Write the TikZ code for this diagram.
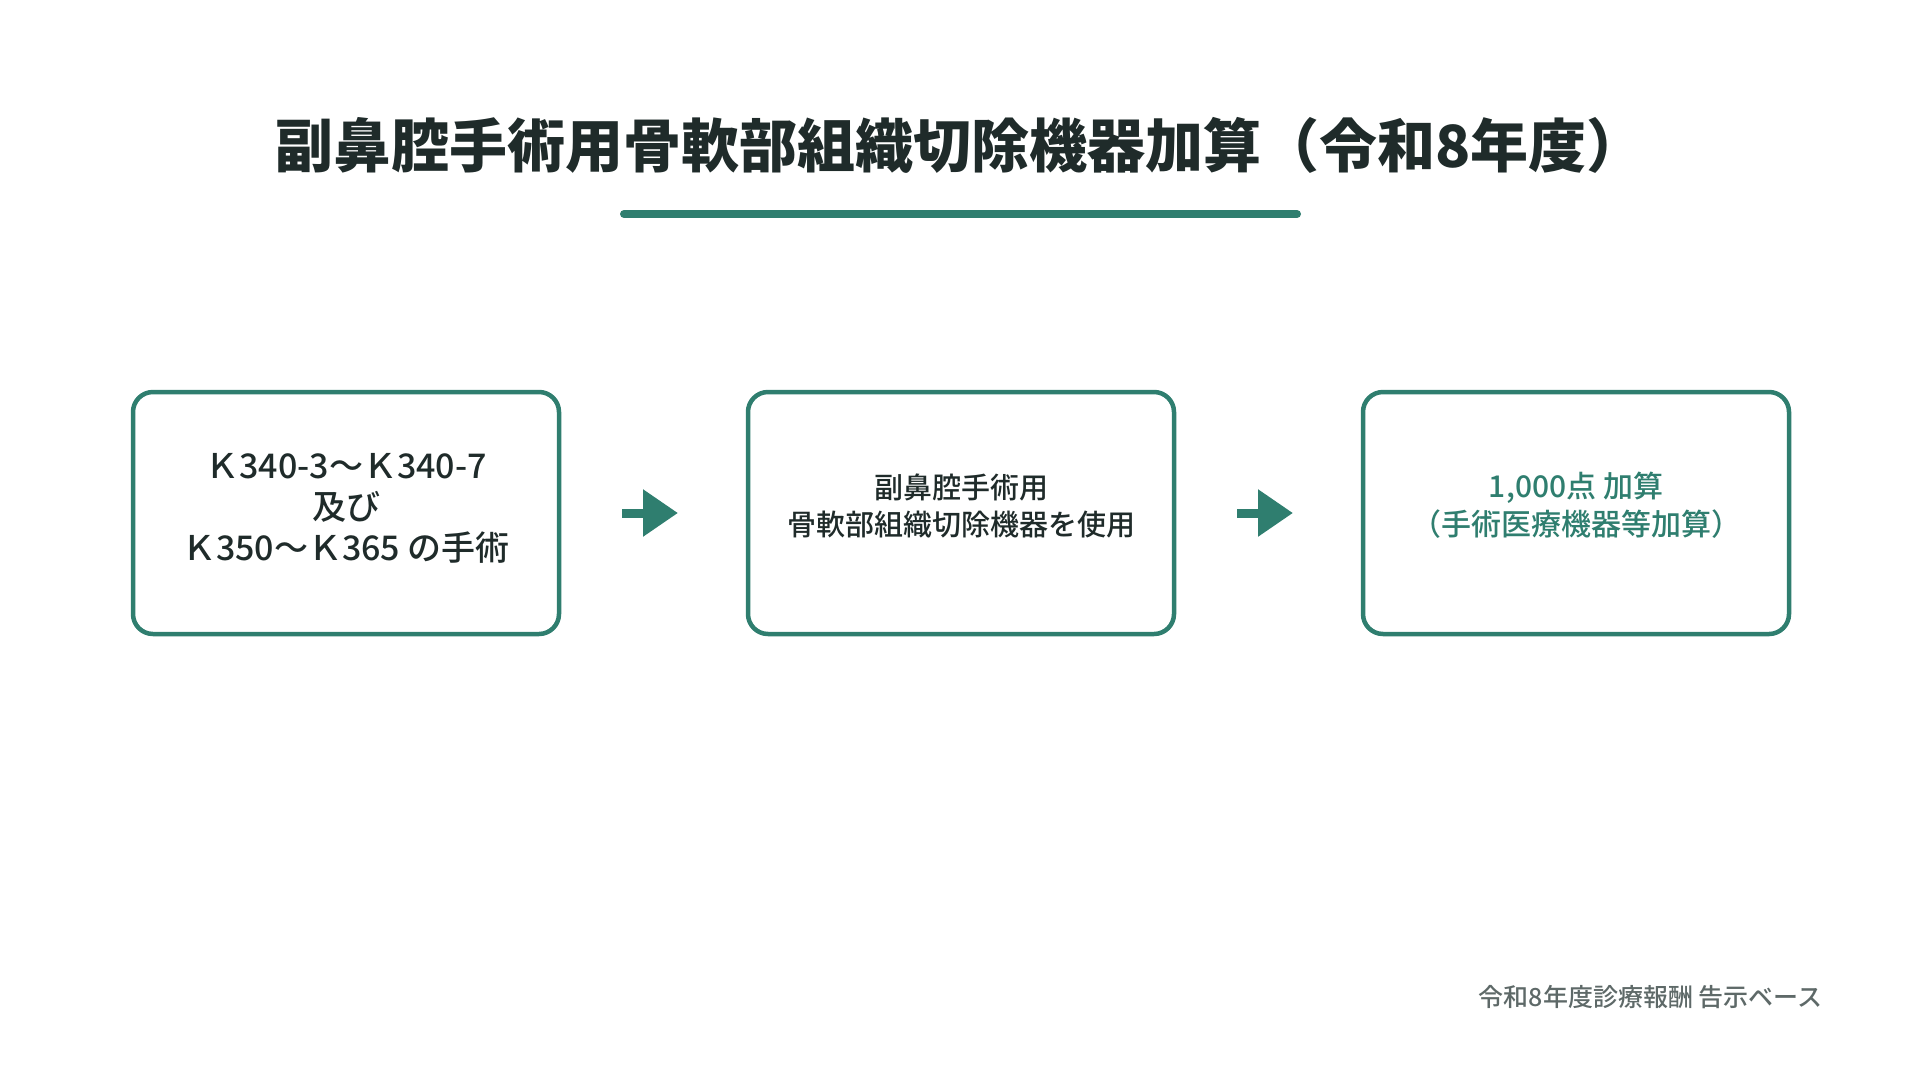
\documentclass[tikz,border=0pt]{standalone}
\usepackage{fontspec}
\setmainfont{Noto Sans CJK JP}
\newfontfamily\medfont{Noto Sans CJK JP Medium}
\usetikzlibrary{arrows.meta,positioning}
\definecolor{kgreen}{HTML}{2F7E6F}
\definecolor{kdark}{HTML}{1F2B2A}
\definecolor{kgray}{HTML}{5E6968}
\tikzset{
	stepbox/.style={draw=kgreen, line width=4.5pt, rounded corners=20pt, minimum width=426pt, minimum height=242pt, outer sep=0pt},
	boxtext/.style={align=center, inner sep=0pt},
	flowarrow/.style={kgreen, line width=9pt, -{Triangle[length=35pt,width=45pt]}, shorten <=63pt, shorten >=70pt},
}
\begin{document}
\begin{tikzpicture}[x=1pt,y=-1pt]
				\useasboundingbox (0,0) rectangle (1920,1080);
				\coordinate (L) at (624,214);
				\coordinate (R) at (1297,214);
				\node [kdark, font=\fontsize{58}{70}\selectfont\bfseries] (title) at (960,145) {副鼻腔手術用骨軟部組織切除機器加算（令和8年度）};
				\draw [kgreen, line width=8pt, line cap=round] (L) -- (R);
				\node [stepbox] (cond) at (346,513) {};
				\node [stepbox] (dev) at (961,513) {};
				\node [stepbox] (pts) at (1576,513) {};
				\node [boxtext, text=kdark, font=\fontsize{34}{41}\selectfont\medfont] (condtxt) at ([yshift=5pt]cond.center) {Ｋ340-3〜Ｋ340-7\\及び\\Ｋ350〜Ｋ365 の手術};
				\node [boxtext, text=kdark, font=\fontsize{29}{37}\selectfont\medfont] (devtxt) at ([yshift=7pt]dev.center) {副鼻腔手術用\\骨軟部組織切除機器を使用};
				\node [boxtext, text=kgreen, font=\fontsize{30}{38}\selectfont\medfont] (ptstxt) at ([yshift=8pt]pts.center) {1,000点 加算\\（手術医療機器等加算）};
				\draw [flowarrow] (cond) -- (dev);
				\draw [flowarrow] (dev) -- (pts);
				\node [anchor=east, kgray, font=\fontsize{25}{28}\selectfont\medfont] (src) at (1826,997) {令和8年度診療報酬 告示ベース};
\end{tikzpicture}
\end{document}
